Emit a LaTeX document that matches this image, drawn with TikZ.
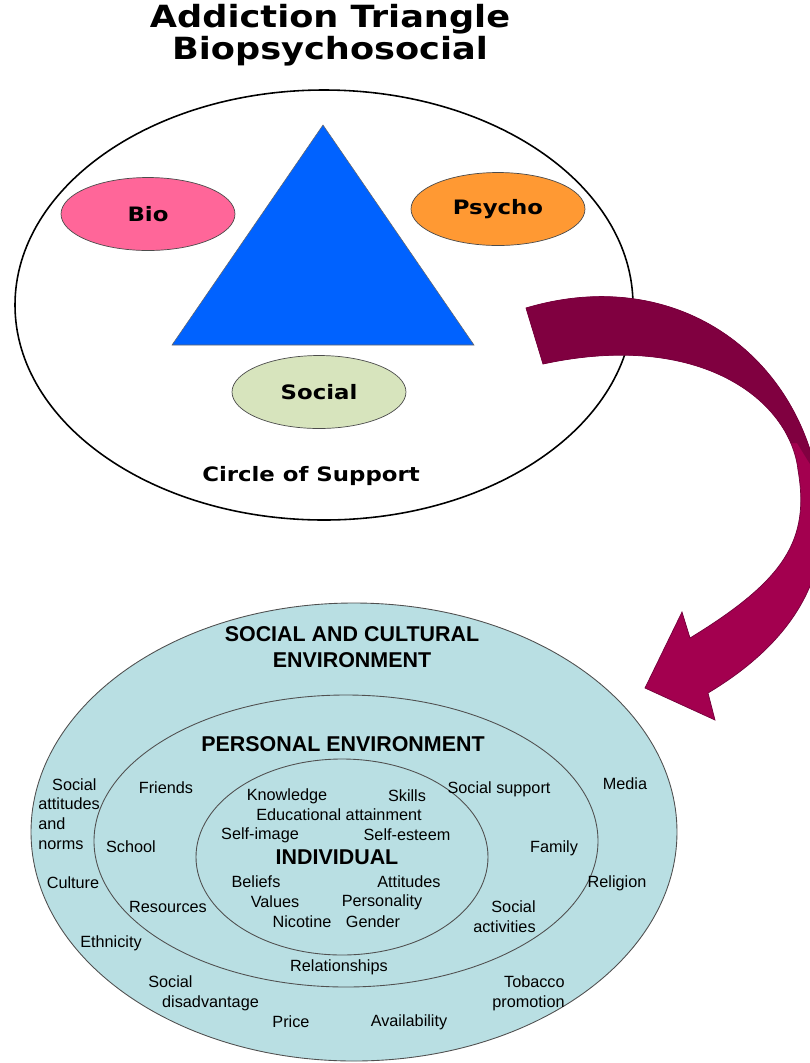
\documentclass[tikz,border=0pt]{standalone}
\usepackage{fontspec}
\setmainfont{Liberation Sans}
\newfontfamily\headfont[FakeStretch=1.15]{DejaVu Sans Bold}
\usetikzlibrary{shapes.geometric}

\definecolor{triblue}{HTML}{0062FF}
\definecolor{biopink}{HTML}{FF6699}
\definecolor{psyorange}{HTML}{FF9933}
\definecolor{socgreen}{HTML}{D7E4BD}
\definecolor{arrdark}{HTML}{800040}
\definecolor{arrlight}{HTML}{A3004F}
\definecolor{envblue}{HTML}{B9DFE3}
\definecolor{ringgray}{HTML}{505050}

\tikzset{blob/.style={ellipse, draw=black!70, line width=0.4pt, minimum width=3.48cm,
    minimum height=1.46cm, inner sep=0pt, font=\headfont\fontsize{11.3pt}{13pt}\selectfont}}
\tikzset{ring/.style={draw=ringgray, line width=0.5pt}}
\tikzset{lbl/.style={inner sep=0pt, font=\fontsize{9.25pt}{11.3pt}\selectfont}}
\tikzset{hd/.style={inner sep=0pt, align=center, font=\bfseries\fontsize{12.2pt}{14.7pt}\selectfont}}

% outline of the bent arrow
\newcommand\bendarrow{(526,308) .. controls (680,262) and (810,360) .. (822,510)
    .. controls (828,590) and (780,650) .. (708,693)
    -- (715,720) -- (645,688) -- (682,612) -- (690,638)
    .. controls (785,580) and (810,540) .. (798,470)
    .. controls (790,400) and (700,330) .. (543,364) -- cycle}

\begin{document}
\begin{tikzpicture}[x=0.02cm, y=-0.02cm]
    \useasboundingbox (0,0) rectangle (810,1063);
    \clip (0,0) rectangle (810,1063);

    % title
    \node[inner sep=0pt, align=center, font=\headfont\fontsize{17.4pt}{15.3pt}\selectfont]
        (title) at (330,35) {Addiction Triangle\\Biopsychosocial};

    % circle of support
    \draw[black, line width=0.9pt, fill=white] (324,305) ellipse [x radius=309, y radius=215];
    \filldraw[fill=triblue, draw=black!60, line width=0.3pt] (323,125) -- (172,345) -- (474,345) -- cycle;
    \node[blob, fill=biopink] (bio) at (148,214) {Bio};
    \node[blob, fill=psyorange] (psycho) at (498,209) {Psycho};
    \node[blob, fill=socgreen] (social) at (319,392) {Social};
    \node[inner sep=0pt, font=\headfont\fontsize{11.3pt}{13pt}\selectfont] (support) at (311,476) {Circle of Support};

    % curved arrow down to the rings
    \begin{scope}
        \clip \bendarrow;
        \fill[arrlight] (480,250) rectangle (870,760);
        \fill[arrdark] (480,250) -- (870,250) -- (870,561) -- (797,443) -- (480,443) -- cycle;
    \end{scope}
    \draw[arrdark!90!black, line width=0.4pt] \bendarrow;

    % rings
    \filldraw[ring, fill=envblue] (354,832) ellipse [x radius=323, y radius=229];
    \draw[ring] (346,841) ellipse [x radius=252, y radius=146];
    \draw[ring] (342,857) ellipse [x radius=146, y radius=98];

    \node[hd] (culture) at (352,647) {SOCIAL AND CULTURAL\\ENVIRONMENT};
    \node[hd] (personal) at (343,744) {PERSONAL ENVIRONMENT};
    \node[hd] (individual) at (337,857) {INDIVIDUAL};

    % individual
    \node[lbl] (knowledge) at (287,796) {Knowledge};
    \node[lbl] (skills) at (407,796) {Skills};
    \node[lbl] (edu) at (339,815) {Educational attainment};
    \node[lbl] (selfimage) at (260,835) {Self-image};
    \node[lbl] (selfesteem) at (407,835) {Self-esteem};
    \node[lbl] (beliefs) at (256,882) {Beliefs};
    \node[lbl] (attitudes) at (409,882) {Attitudes};
    \node[lbl] (values) at (275,902) {Values};
    \node[lbl] (personality) at (382,902) {Personality};
    \node[lbl] (nicotine) at (302,922) {Nicotine};
    \node[lbl] (gender) at (373,922) {Gender};

    % personal environment
    \node[lbl] (friends) at (166,788) {Friends};
    \node[lbl] (school) at (131,847) {School};
    \node[lbl] (resources) at (168,907) {Resources};
    \node[lbl] (relations) at (339,967) {Relationships};
    \node[lbl] (support2) at (499,789) {Social support};
    \node[lbl] (family) at (554,848) {Family};
    \node[lbl, align=right, anchor=east] (activities) at (536,917) {Social\\activities};

    % social and cultural environment
    \node[lbl, align=left, anchor=west] (norms) at (38,814) {\hspace*{0.85em}Social\\attitudes\\and\\norms};
    \node[lbl] (culturelbl) at (73,883) {Culture};
    \node[lbl] (ethnicity) at (111,943) {Ethnicity};
    \node[lbl, align=left, anchor=west] (disadv) at (148,993) {Social\\\hspace*{0.85em}disadvantage};
    \node[lbl] (price) at (291,1022) {Price};
    \node[lbl] (avail) at (409,1022) {Availability};
    \node[lbl, align=right, anchor=east] (tobacco) at (565,993) {Tobacco\\promotion};
    \node[lbl] (media) at (625,784) {Media};
    \node[lbl] (religion) at (617,883) {Religion};
\end{tikzpicture}
\end{document}
